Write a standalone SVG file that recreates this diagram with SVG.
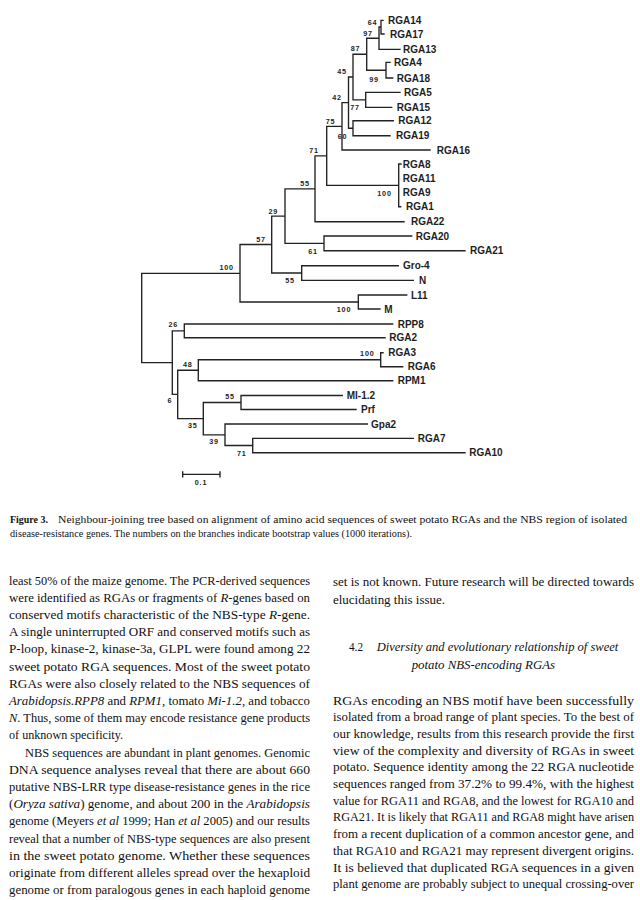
<svg xmlns="http://www.w3.org/2000/svg" width="640" height="900" viewBox="0 0 640 900">
<style>
.br{stroke:#222;stroke-width:1.35;fill:none;stroke-linecap:square}
.lf{font-family:"Liberation Sans",Arial,sans-serif;font-weight:bold;font-size:10px;fill:#1e1e1e}
.bs{font-family:"Liberation Sans",Arial,sans-serif;font-weight:bold;font-size:7.2px;letter-spacing:0.8px;text-anchor:middle;fill:#1e1e1e}
.tx{font-family:"Liberation Serif","Times New Roman",serif;font-size:13.5px;fill:#111}
.cp{font-family:"Liberation Serif","Times New Roman",serif;font-size:11px;fill:#111}
.it{font-style:italic}
</style>
<rect width="640" height="900" fill="#ffffff"/>

<g id="connectors">
<path class="br" d="M381 20.3V34M381 20.3H383M381 34H384
M379 27V49.3M379 27H381M379 49.3H400
M386 62.3V78M386 62.3H390M386 78H392.7
M366.7 38.2V70.2M366.7 38.2H379M366.7 70.2H386
M365.7 92.3V107.3M365.7 92.3H400M365.7 107.3H391.7
M353 54.2V99.8M353 54.2H366.7M353 99.8H365.7
M353 120.7V135.7M353 120.7H393.3M353 135.7H390
M348.5 77V128.2M348.5 77H353M348.5 128.2H353
M342 102.6V150M342 102.6H348.5M342 150H430
M398.7 164V206.7M398.7 164H401M398.7 206.7H400.7
M326.7 126.3V185.4M326.7 126.3H342M326.7 185.4H398.7
M315 155.9V221.7M315 155.9H326.7M315 221.7H404
M324 236V250.7M324 236H411.7M324 250.7H465
M285 188.8V243.4M285 188.8H315M285 243.4H324
M301.7 265.7V280.3M301.7 265.7H398.3M301.7 280.3H413.3
M271.7 216.1V273M271.7 216.1H285M271.7 273H301.7
M358.3 295V309M358.3 295H406.7M358.3 309H380
M240 244.5V302M240 244.5H271.7M240 302H358.3
M141.7 273.3V362.6M141.7 273.3H240M141.7 362.6H172.3
M184.3 324V337.7M184.3 324H392.7M184.3 337.7H385
M172.3 330.8V394.4M172.3 330.8H184.3M172.3 394.4H177.7
M380.7 352.7V366.7M380.7 352.7H383M380.7 366.7H402.7
M198.3 359.7V380.7M198.3 359.7H380.7M198.3 380.7H392.7
M241 395.5V409.5M241 395.5H342.3M241 409.5H356
M252.7 438.3V452.7M252.7 438.3H413.3M252.7 452.7H465
M225 424V445.5M225 424H367.3M225 445.5H252.7
M203.3 402.5V434.8M203.3 402.5H241M203.3 434.8H225
M177.7 370.2V418.6M177.7 370.2H198.3M177.7 418.6H203.3"/>
</g>

<g id="leaves">
<g id="leaf-RGA14"><text class="lf" x="388" y="23.9">RGA14</text></g>
<g id="leaf-RGA17"><text class="lf" x="390" y="37.6">RGA17</text></g>
<g id="leaf-RGA13"><text class="lf" x="403" y="52.9">RGA13</text></g>
<g id="leaf-RGA4"><text class="lf" x="394" y="65.9">RGA4</text></g>
<g id="leaf-RGA18"><text class="lf" x="396.7" y="81.6">RGA18</text></g>
<g id="leaf-RGA5"><text class="lf" x="404" y="95.9">RGA5</text></g>
<g id="leaf-RGA15"><text class="lf" x="396.7" y="110.9">RGA15</text></g>
<g id="leaf-RGA12"><text class="lf" x="398.3" y="124.3">RGA12</text></g>
<g id="leaf-RGA19"><text class="lf" x="396" y="139.3">RGA19</text></g>
<g id="leaf-RGA16"><text class="lf" x="436.7" y="153.6">RGA16</text></g>
<g id="leaf-RGA8"><text class="lf" x="402.7" y="167.6">RGA8</text></g>
<g id="leaf-RGA11"><text class="lf" x="402.7" y="181.9">RGA11</text></g>
<g id="leaf-RGA9"><text class="lf" x="402.7" y="196.3">RGA9</text></g>
<g id="leaf-RGA1"><text class="lf" x="406" y="210.3">RGA1</text></g>
<g id="leaf-RGA22"><text class="lf" x="411" y="225.3">RGA22</text></g>
<g id="leaf-RGA20"><text class="lf" x="415.7" y="239.6">RGA20</text></g>
<g id="leaf-RGA21"><text class="lf" x="470" y="254.3">RGA21</text></g>
<g id="leaf-Gro-4"><text class="lf" x="403" y="269.3">Gro-4</text></g>
<g id="leaf-N"><text class="lf" x="419" y="283.9">N</text></g>
<g id="leaf-L11"><text class="lf" x="411" y="298.6">L11</text></g>
<g id="leaf-M"><text class="lf" x="384.3" y="312.6">M</text></g>
<g id="leaf-RPP8"><text class="lf" x="397.7" y="327.6">RPP8</text></g>
<g id="leaf-RGA2"><text class="lf" x="389.3" y="341.3">RGA2</text></g>
<g id="leaf-RGA3"><text class="lf" x="388.3" y="356.3">RGA3</text></g>
<g id="leaf-RGA6"><text class="lf" x="407.7" y="370.3">RGA6</text></g>
<g id="leaf-RPM1"><text class="lf" x="397.7" y="384.3">RPM1</text></g>
<g id="leaf-MI-1.2"><text class="lf" x="346.7" y="399.1">MI-1.2</text></g>
<g id="leaf-Prf"><text class="lf" x="361" y="413.1">Prf</text></g>
<g id="leaf-Gpa2"><text class="lf" x="371" y="427.6">Gpa2</text></g>
<g id="leaf-RGA7"><text class="lf" x="417.7" y="441.9">RGA7</text></g>
<g id="leaf-RGA10"><text class="lf" x="469.3" y="456.3">RGA10</text></g>
</g>

<g id="bootstrap">
<text class="bs" x="372.5" y="25.2">64</text>
<text class="bs" x="368" y="35.8">97</text>
<text class="bs" x="355.5" y="50.5">87</text>
<text class="bs" x="374" y="81.5">99</text>
<text class="bs" x="355" y="109.5">77</text>
<text class="bs" x="342" y="73.5">45</text>
<text class="bs" x="337" y="99.8">42</text>
<text class="bs" x="330.5" y="124">75</text>
<text class="bs" x="342.6" y="138.5">60</text>
<text class="bs" x="314" y="152.5">71</text>
<text class="bs" x="305" y="186">55</text>
<text class="bs" x="384.5" y="195.5">100</text>
<text class="bs" x="273.3" y="213.5">29</text>
<text class="bs" x="313" y="253.5">61</text>
<text class="bs" x="261" y="241.8">57</text>
<text class="bs" x="290" y="282.5">55</text>
<text class="bs" x="226.7" y="269.8">100</text>
<text class="bs" x="344" y="311.5">100</text>
<text class="bs" x="173.3" y="326.5">26</text>
<text class="bs" x="187.7" y="366.5">48</text>
<text class="bs" x="170" y="402.5">6</text>
<text class="bs" x="367.3" y="355.8">100</text>
<text class="bs" x="230" y="399.2">55</text>
<text class="bs" x="192.7" y="427.5">35</text>
<text class="bs" x="214" y="444.2">39</text>
<text class="bs" x="241.7" y="455.8">71</text>
</g>

<g id="scale-bar">
<path class="br" d="M182.7 474.3H220M182.7 471.8V476.8M220 471.8V476.8"/>
<text class="bs" x="201" y="485">0.1</text>
</g>

<g id="caption">
<text class="cp" x="10" y="523" font-weight="bold" textLength="38" lengthAdjust="spacingAndGlyphs">Figure 3.</text>
<text class="cp" x="58" y="523" textLength="569" lengthAdjust="spacingAndGlyphs">Neighbour-joining tree based on alignment of amino acid sequences of sweet potato RGAs and the NBS region of isolated</text>
<text class="cp" x="10" y="537" textLength="402" lengthAdjust="spacingAndGlyphs">disease-resistance genes. The numbers on the branches indicate bootstrap values (1000 iterations).</text>
</g>

<g id="left-column">
<text class="tx" x="9" y="584.5" textLength="301" lengthAdjust="spacingAndGlyphs">least 50% of the maize genome. The PCR-derived sequences</text>
<text class="tx" x="9" y="601.7" textLength="301" lengthAdjust="spacingAndGlyphs">were identified as RGAs or fragments of <tspan class="it">R</tspan>-genes based on</text>
<text class="tx" x="9" y="618.9" textLength="301" lengthAdjust="spacingAndGlyphs">conserved motifs characteristic of the NBS-type <tspan class="it">R</tspan>-gene.</text>
<text class="tx" x="9" y="636.1" textLength="301" lengthAdjust="spacingAndGlyphs">A single uninterrupted ORF and conserved motifs such as</text>
<text class="tx" x="9" y="653.3" textLength="301" lengthAdjust="spacingAndGlyphs">P-loop, kinase-2, kinase-3a, GLPL were found among 22</text>
<text class="tx" x="9" y="670.5" textLength="301" lengthAdjust="spacingAndGlyphs">sweet potato RGA sequences. Most of the sweet potato</text>
<text class="tx" x="9" y="687.7" textLength="301" lengthAdjust="spacingAndGlyphs">RGAs were also closely related to the NBS sequences of</text>
<text class="tx" x="9" y="704.9" textLength="301" lengthAdjust="spacingAndGlyphs"><tspan class="it">Arabidopsis.RPP8</tspan> and <tspan class="it">RPM1</tspan>, tomato <tspan class="it">Mi-1.2</tspan>, and tobacco</text>
<text class="tx" x="9" y="722.1" textLength="301" lengthAdjust="spacingAndGlyphs"><tspan class="it">N</tspan>. Thus, some of them may encode resistance gene products</text>
<text class="tx" x="9" y="739.3" textLength="114" lengthAdjust="spacingAndGlyphs">of unknown specificity.</text>
<text class="tx" x="25" y="756.5" textLength="285" lengthAdjust="spacingAndGlyphs">NBS sequences are abundant in plant genomes. Genomic</text>
<text class="tx" x="9" y="773.7" textLength="301" lengthAdjust="spacingAndGlyphs">DNA sequence analyses reveal that there are about 660</text>
<text class="tx" x="9" y="790.9" textLength="301" lengthAdjust="spacingAndGlyphs">putative NBS-LRR type disease-resistance genes in the rice</text>
<text class="tx" x="9" y="808.1" textLength="301" lengthAdjust="spacingAndGlyphs">(<tspan class="it">Oryza sativa</tspan>) genome, and about 200 in the <tspan class="it">Arabidopsis</tspan></text>
<text class="tx" x="9" y="825.3" textLength="301" lengthAdjust="spacingAndGlyphs">genome (Meyers <tspan class="it">et al</tspan> 1999; Han <tspan class="it">et al</tspan> 2005) and our results</text>
<text class="tx" x="9" y="842.5" textLength="301" lengthAdjust="spacingAndGlyphs">reveal that a number of NBS-type sequences are also present</text>
<text class="tx" x="9" y="859.7" textLength="301" lengthAdjust="spacingAndGlyphs">in the sweet potato genome. Whether these sequences</text>
<text class="tx" x="9" y="876.9" textLength="301" lengthAdjust="spacingAndGlyphs">originate from different alleles spread over the hexaploid</text>
<text class="tx" x="9" y="894.1" textLength="301" lengthAdjust="spacingAndGlyphs">genome or from paralogous genes in each haploid genome</text>
</g>

<g id="right-column">
<text class="tx" x="333" y="585.5" textLength="301" lengthAdjust="spacingAndGlyphs">set is not known. Future research will be directed towards</text>
<text class="tx" x="333" y="603.5" textLength="112" lengthAdjust="spacingAndGlyphs">elucidating this issue.</text>
<text class="tx" x="349" y="651" textLength="14" lengthAdjust="spacingAndGlyphs">4.2</text>
<text class="tx it" x="376.7" y="651" textLength="241.6" lengthAdjust="spacingAndGlyphs">Diversity and evolutionary relationship of sweet</text>
<text class="tx it" x="411.7" y="668.5" textLength="143.3" lengthAdjust="spacingAndGlyphs">potato NBS-encoding RGAs</text>
<text class="tx" x="333" y="704.5" textLength="301" lengthAdjust="spacingAndGlyphs">RGAs encoding an NBS motif have been successfully</text>
<text class="tx" x="333" y="721.2" textLength="301" lengthAdjust="spacingAndGlyphs">isolated from a broad range of plant species. To the best of</text>
<text class="tx" x="333" y="737.9" textLength="301" lengthAdjust="spacingAndGlyphs">our knowledge, results from this research provide the first</text>
<text class="tx" x="333" y="754.6" textLength="301" lengthAdjust="spacingAndGlyphs">view of the complexity and diversity of RGAs in sweet</text>
<text class="tx" x="333" y="771.3" textLength="301" lengthAdjust="spacingAndGlyphs">potato. Sequence identity among the 22 RGA nucleotide</text>
<text class="tx" x="333" y="788" textLength="301" lengthAdjust="spacingAndGlyphs">sequences ranged from 37.2% to 99.4%, with the highest</text>
<text class="tx" x="333" y="804.7" textLength="301" lengthAdjust="spacingAndGlyphs">value for RGA11 and RGA8, and the lowest for RGA10 and</text>
<text class="tx" x="333" y="821.4" textLength="301" lengthAdjust="spacingAndGlyphs">RGA21. It is likely that RGA11 and RGA8 might have arisen</text>
<text class="tx" x="333" y="838.1" textLength="301" lengthAdjust="spacingAndGlyphs">from a recent duplication of a common ancestor gene, and</text>
<text class="tx" x="333" y="854.8" textLength="301" lengthAdjust="spacingAndGlyphs">that RGA10 and RGA21 may represent divergent origins.</text>
<text class="tx" x="333" y="871.5" textLength="301" lengthAdjust="spacingAndGlyphs">It is believed that duplicated RGA sequences in a given</text>
<text class="tx" x="333" y="888.2" textLength="301" lengthAdjust="spacingAndGlyphs">plant genome are probably subject to unequal crossing-over</text>
</g>
</svg>
